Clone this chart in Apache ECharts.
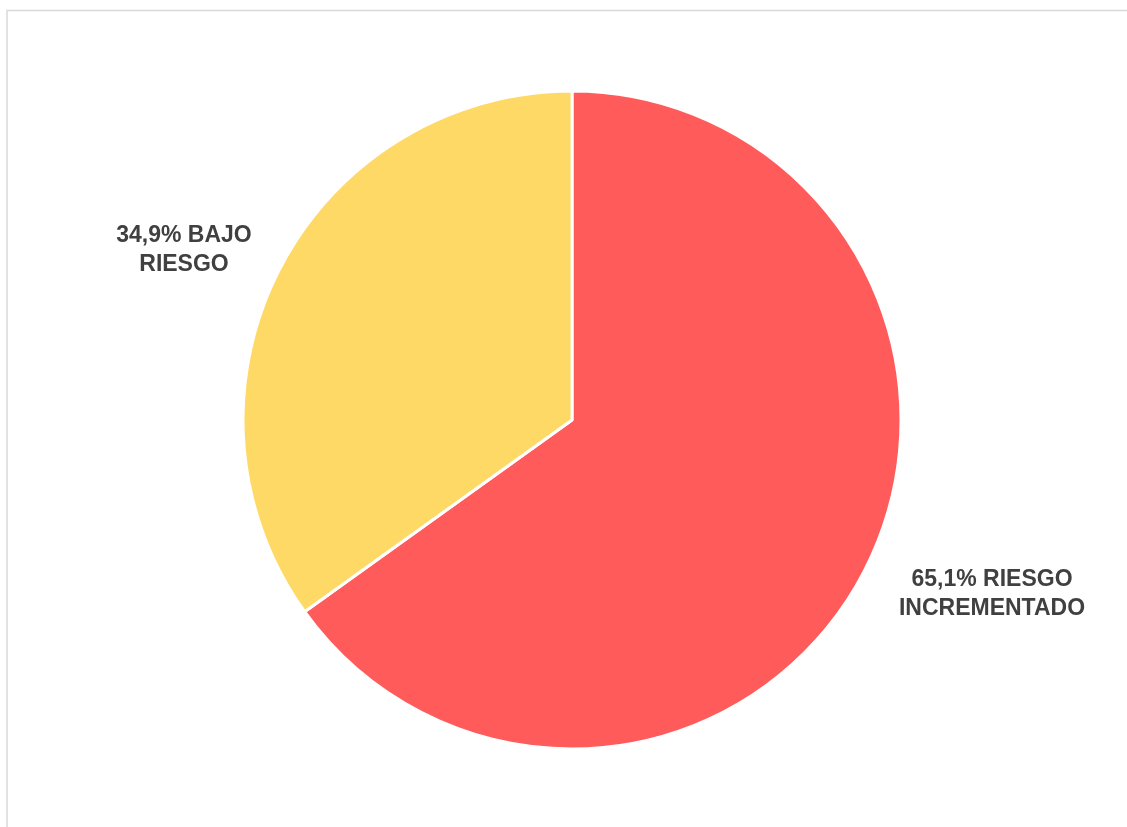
<!DOCTYPE html>
<html>
<head>
<meta charset="utf-8">
<script src="https://cdn.jsdelivr.net/npm/echarts@6/dist/echarts.min.js"></script>
<style>
html,body{margin:0;padding:0;background:#fff;}
#chart{width:1127px;height:827px;}
</style>
</head>
<body>
<div id="chart"></div>
<script>
var categories = ['RIESGO\nINCREMENTADO', 'BAJO\nRIESGO'];
var values = [65.1, 34.9];
var percentLabels = ['65,1%', '34,9%'];
var colors = ['#FF5B5B', '#FFD966'];

var labelSpots = [[992, 594], [184, 250]];

var chart = echarts.init(document.getElementById('chart'));
chart.setOption({
  animation: false,
  backgroundColor: '#fff',
  graphic: [{
    type: 'rect',
    shape: {x: 7, y: 10.5, width: 1300, height: 1000},
    style: {fill: 'none', stroke: '#D9D9D9', lineWidth: 1.5},
    silent: true
  }],
  series: [{
    type: 'pie',
    center: [572, 420],
    radius: 329,
    startAngle: 90,
    clockwise: true,
    data: categories.map(function (c, i) {
      return {name: c, value: values[i], itemStyle: {color: colors[i]}};
    }),
    itemStyle: {borderColor: '#fff', borderWidth: 3},
    label: {
      show: true,
      position: 'outside',
      formatter: function (p) {
        var parts = categories[p.dataIndex].split('\n');
        return percentLabels[p.dataIndex] + ' ' + parts[0] + '\n' + parts[1];
      },
      fontFamily: 'Liberation Sans, Arial, sans-serif',
      fontWeight: 'bold',
      fontSize: 23,
      lineHeight: 29,
      color: '#404040',
      align: 'center'
    },
    labelLine: {show: false},
    labelLayout: function (p) {
      var s = labelSpots[p.dataIndex];
      return {x: s[0], y: s[1], align: 'center', verticalAlign: 'middle'};
    }
  }]
});
</script>
</body>
</html>
